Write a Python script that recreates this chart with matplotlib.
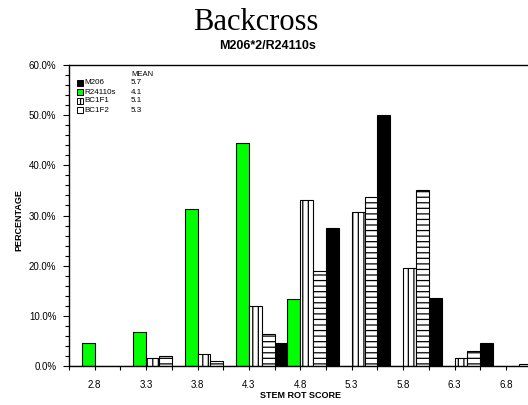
import numpy as np
import matplotlib
matplotlib.use('Agg')
import matplotlib.pyplot as plt
from matplotlib.patches import Rectangle
from matplotlib.ticker import FuncFormatter, MultipleLocator

matplotlib.rcParams['font.family'] = 'Liberation Sans'
matplotlib.rcParams['hatch.linewidth'] = 0.9

# data (percent of plants per score)
scores = ['2.8', '3.3', '3.8', '4.3', '4.8', '5.3', '5.8', '6.3', '6.8']
series = ['M206', 'R24110s', 'BC1F1', 'BC1F2']
means = ['5.7', '4.1', '5.1', '5.3']
m206 = [0.0, 0.0, 0.0, 0.0, 4.5, 27.5, 50.0, 13.6, 4.5]
r24110s = [4.5, 6.7, 31.3, 44.5, 13.4, 0.0, 0.0, 0.0, 0.0]
bc1f1 = [0.0, 1.5, 2.4, 12.0, 33.1, 30.7, 19.5, 1.6, 0.0]
bc1f2 = [0.0, 2.0, 1.0, 6.4, 18.9, 33.6, 35.0, 3.0, 0.3]

W, H = 528, 405


def fx(px):
    return px / W


def fy(py):
    return 1 - py / H


fig = plt.figure(figsize=(W / 100, H / 100), dpi=100)
ax = fig.add_axes([fx(69), fy(366), (531.6 - 69) / W, (366 - 65) / H])

styles = [
    dict(color='black', hatch=None),
    dict(color='#00ff00', hatch=None),
    dict(color='white', hatch='|||'),
    dict(color='white', hatch='---'),
]
x = np.arange(len(scores))
width = 0.25
for k, vals in enumerate([m206, r24110s, bc1f1, bc1f2]):
    st = styles[k]
    ax.bar(x + (k - 1.5) * width, vals, width, color=st['color'],
           edgecolor='black', linewidth=0.8, hatch=st['hatch'], zorder=2)

ax.set_xlim(-0.5, len(scores) - 0.5)
ax.set_ylim(0, 60)
ax.set_xticks(x, scores)
ax.set_xticks(np.arange(-0.5, len(scores), 1.0), minor=True)
ax.yaxis.set_major_locator(MultipleLocator(10))
ax.yaxis.set_minor_locator(MultipleLocator(2))
ax.yaxis.set_major_formatter(FuncFormatter(lambda v, p: '%.1f%%' % v))
ax.tick_params(axis='both', which='both', direction='out', labelsize=7,
               width=0.8, colors='black')
ax.tick_params(axis='y', which='major', length=4, pad=5)
ax.tick_params(axis='y', which='minor', length=3)
ax.tick_params(axis='x', which='both', length=3, pad=7)
for s in ax.spines.values():
    s.set_linewidth(1.0)

fig.text(fx(256), fy(22), 'Backcross', family='Liberation Serif',
         fontsize=22, ha='center', va='center')
fig.text(fx(268), fy(46), 'M206*2/R24110s', fontsize=9, fontweight='bold',
         ha='center', va='center')
fig.text(fx(19), fy(220), 'PERCENTAGE', fontsize=6.5, fontweight='bold',
         rotation=90, ha='center', va='center')
fig.text(fx(301), fy(395), 'STEM ROT SCORE', fontsize=6.5, fontweight='bold',
         ha='center', va='center')

# legend with means, drawn by hand like the original
fig.text(fx(131), fy(74), 'MEAN', fontsize=5.5, ha='left', va='center')
rows_y = [83, 92, 101, 110]
for k, name in enumerate(series):
    st = styles[k]
    fig.add_artist(Rectangle((fx(77), fy(rows_y[k] + 3)), 6 / W, 6 / H,
                             transform=fig.transFigure, facecolor=st['color'],
                             edgecolor='black', linewidth=0.7,
                             hatch=st['hatch'] if k == 2 else None))
    fig.text(fx(84), fy(rows_y[k]), name, fontsize=5.8, ha='left', va='center')
    fig.text(fx(131), fy(rows_y[k]), means[k], fontsize=5.8, ha='left',
             va='center')

fig.savefig('out.png', dpi=100)
